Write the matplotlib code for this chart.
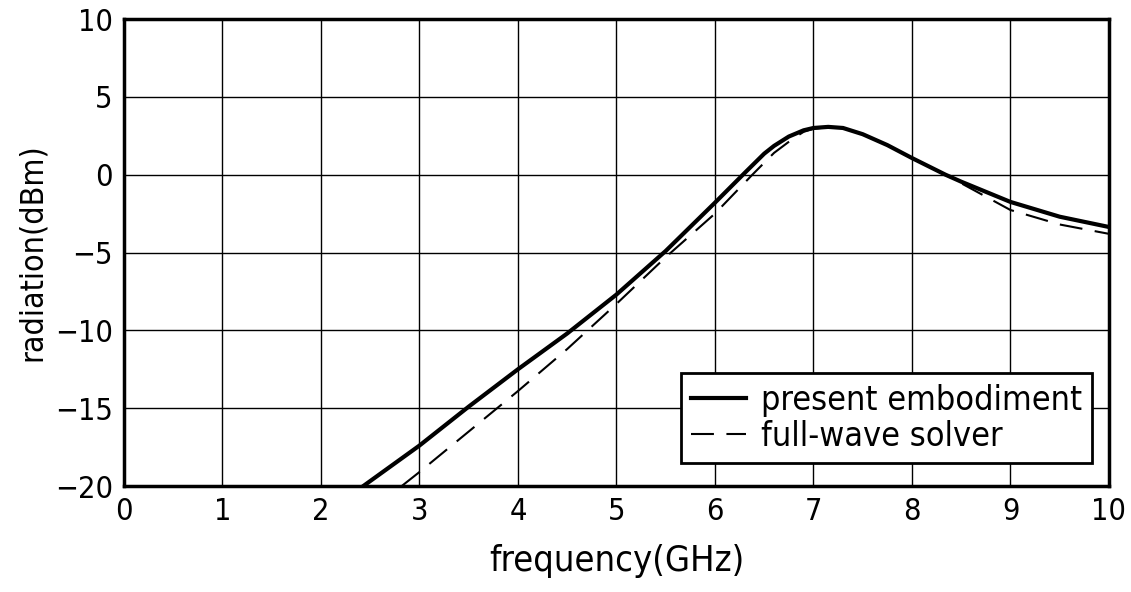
import matplotlib
matplotlib.use("Agg")
from matplotlib import pyplot as plt

# values
freq_present = [2.43, 3.0, 3.5, 4.0, 4.5, 5.0, 5.5, 6.0, 6.3, 6.5, 6.6, 6.75, 6.9, 7.0, 7.15, 7.3,
                7.5, 7.75, 8.0, 8.34, 8.5, 9.0, 9.5, 10.0]
rad_present = [-20.0, -17.4, -14.9, -12.5, -10.2, -7.7, -4.9, -1.8, 0.1, 1.35, 1.85, 2.45, 2.85, 3.0, 3.07, 3.0,
               2.6, 1.9, 1.07, 0.0, -0.45, -1.75, -2.7, -3.36]

freq_solver = [2.82, 3.0, 3.5, 4.0, 4.5, 5.0, 5.5, 6.0, 6.38, 6.6, 6.8, 6.9, 7.0, 7.15, 7.3,
               7.5, 7.75, 8.0, 8.34, 8.5, 9.0, 9.5, 10.0]
rad_solver = [-20.0, -19.1, -16.5, -13.9, -11.2, -8.3, -5.3, -2.5, 0.0, 1.4, 2.35, 2.75, 2.95, 3.05, 3.0,
              2.6, 1.9, 1.07, 0.0, -0.55, -2.27, -3.2, -3.8]

xticks = list(range(0, 11))
yticks = [-20, -15, -10, -5, 0, 5, 10]
legendLabels = ["present embodiment", "full-wave solver"]

plt.rcParams['font.family'] = ['DejaVu Sans']
plt.rcParams['font.stretch'] = 'condensed'

fig = plt.figure(figsize=(11.31, 5.92), dpi=100)
ax = fig.add_axes([0.1096, 0.179, 0.8709, 0.7889])

ax.plot(freq_present, rad_present, color='black', linewidth=3.0, label=legendLabels[0])
ax.plot(freq_solver, rad_solver, color='black', linewidth=1.5, dashes=(11, 6), label=legendLabels[1])

ax.set_xlim(0, 10)
ax.set_ylim(-20, 10)
ax.set_xticks(xticks)
ax.set_yticks(yticks)
ax.set_yticklabels([str(v).replace('-', '\u2212') for v in yticks])
ax.grid(True, color='black', linewidth=1.0)
ax.tick_params(length=0, labelsize=22, pad=8)
for s in ax.spines.values():
    s.set_linewidth(2.5)

ax.set_xlabel("frequency(GHz)", fontsize=26, labelpad=13)
ax.set_ylabel("radiation(dBm)", fontsize=23, labelpad=5)

leg = ax.legend(loc='lower right', bbox_to_anchor=(0.983, 0.049), borderaxespad=0, fontsize=24.5,
                frameon=True, fancybox=False, edgecolor='black', framealpha=1, handlelength=1.6,
                handletextpad=0.45, borderpad=0.3, labelspacing=0.1)
leg.get_frame().set_linewidth(2.0)

fig.savefig("out.png", dpi=100)
